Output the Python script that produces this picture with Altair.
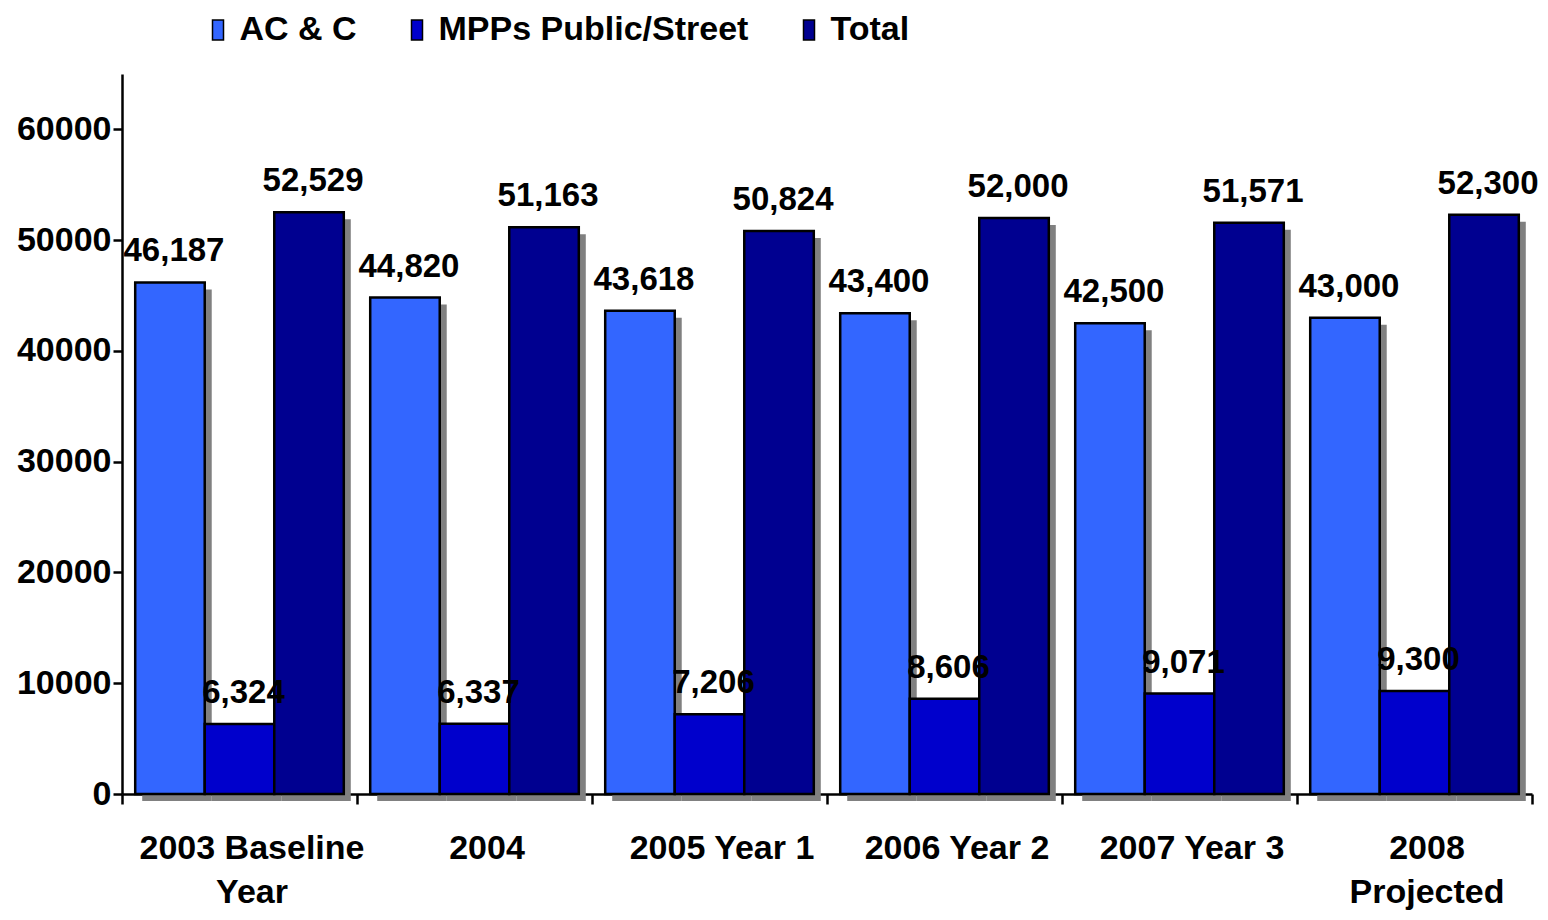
import altair as alt
import pandas as pd

FONT = "Liberation Sans"

categories = ["2003 Baseline\nYear", "2004", "2005 Year 1", "2006 Year 2", "2007 Year 3", "2008\nProjected"]
series = ["AC & C", "MPPs Public/Street", "Total"]
ac_c = [46187, 44820, 43618, 43400, 42500, 43000]
mpps = [6324, 6337, 7206, 8606, 9071, 9300]
total = [52529, 51163, 50824, 52000, 51571, 52300]
colors = ["#3366FF", "#0000CC", "#000090"]
y_ticks = [0, 10000, 20000, 30000, 40000, 50000, 60000]

rows = []
for s, vals in zip(series, [ac_c, mpps, total]):
    for c, v in zip(categories, vals):
        rows.append({"category": c, "series": s, "value": v, "label": f"{v:,}"})
df = pd.DataFrame(rows)

x_enc = alt.X(
    "category:N",
    sort=categories,
    scale=alt.Scale(paddingInner=0, paddingOuter=0),
    axis=alt.Axis(
        title=None,
        labelAngle=0,
        labelExpr="split(datum.label, '\\n')",
        tickBand="extent",
        tickSize=10,
        labelPadding=27,
        labelFontSize=34,
        labelLineHeight=44,
        labelBaseline="top",
        labelLimit=500,
        labelOffset=12,
    ),
)
y_enc = alt.Y(
    "value:Q",
    scale=alt.Scale(domain=[0, 65000], nice=False),
    axis=alt.Axis(
        title=None,
        values=y_ticks,
        format="d",
        tickSize=9,
        labelPadding=2,
        labelFontSize=34,
        grid=False,
    ),
)


def offset_enc(align=0.5):
    return alt.XOffset(
        "series:N", sort=series,
        scale=alt.Scale(type="band", paddingOuter=0.19, paddingInner=0, align=align),
    )


# shadow: same bars, shifted right (via band alignment) and down
shadow = alt.Chart(df).mark_bar(color="#808080", yOffset=7, y2Offset=2).encode(
    x=x_enc, xOffset=offset_enc(0.765), y=y_enc,
)

base = alt.Chart(df).encode(x=x_enc, xOffset=offset_enc(), y=y_enc)

bars = base.mark_bar(stroke="black", strokeWidth=2.5, opacity=1).encode(
    color=alt.Color(
        "series:N",
        scale=alt.Scale(domain=series, range=colors),
        legend=alt.Legend(
            title=None,
            orient="none",
            legendX=79,
            legendY=-61,
            direction="horizontal",
            symbolType="M-0.55,-1H0.55V1H-0.55Z",
            symbolSize=400,
            symbolStrokeColor="black",
            symbolStrokeWidth=1.5,
            symbolOpacity=1,
            labelFont=FONT,
            labelFontWeight="bold",
            labelFontSize=34,
            labelColor="black",
            labelOffset=4.5,
            labelLimit=500,
            columnPadding=43,
        ),
    )
)

labels = base.mark_text(
    align="center",
    baseline="alphabetic",
    dx=4,
    dy=-21,
    font=FONT,
    fontSize=33,
    fontWeight="bold",
    color="black",
).encode(text="label:N")

chart = (
    alt.layer(shadow, bars, labels)
    .resolve_scale(xOffset="independent")
    .properties(
        width=1410,
        height=720,
        autosize=alt.AutoSizeParams(type="none"),
        padding={"left": 114, "top": 66, "right": 8, "bottom": 118},
    )
    .configure_view(stroke=None)
    .configure_axis(
        domainColor="black",
        domainWidth=2.5,
        tickColor="black",
        tickWidth=2.5,
        labelFont=FONT,
        labelFontWeight="bold",
        labelColor="black",
    )
)

chart.save("out.html", embed_options={"renderer": "svg", "actions": False})
